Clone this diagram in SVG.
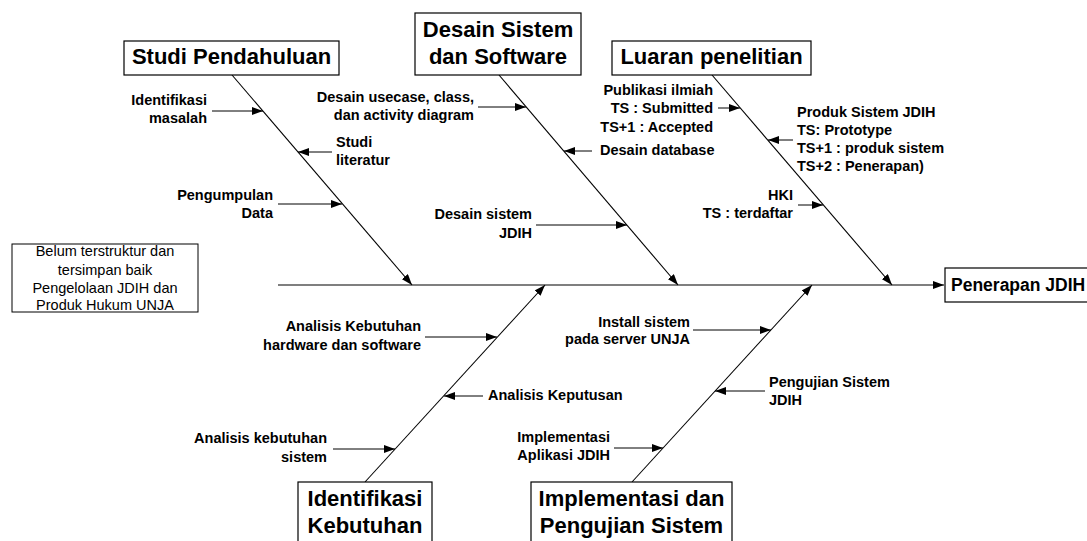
<svg xmlns="http://www.w3.org/2000/svg" width="1087" height="541" viewBox="0 0 1087 541">
<style>
.box{fill:#fff;stroke:#000;stroke-width:1.2}
.title{font-family:"Liberation Sans",Arial,sans-serif;font-weight:bold;font-size:22px;fill:#000}
.lbl{font-family:"Liberation Sans",Arial,sans-serif;font-weight:bold;font-size:14.5px;fill:#000}
.note{font-family:"Liberation Sans",Arial,sans-serif;font-size:14.5px;fill:#000}
.bone{stroke:#000;stroke-width:1.1;fill:none}
.sub{stroke:#000;stroke-width:1;fill:none}
.r{text-anchor:end}
.m{text-anchor:middle}
</style>
<defs>
<marker id="ah" viewBox="0 0 11 8" refX="11" refY="4" markerWidth="11" markerHeight="8" markerUnits="userSpaceOnUse" orient="auto">
<path d="M0,0 L11,4 L0,8 z" fill="#000"/>
</marker>
</defs>
<rect width="1087" height="541" fill="#fff"/>

<g id="connectors">
<line class="bone" x1="278" y1="285" x2="944" y2="285" marker-end="url(#ah)"/>
<line class="bone" x1="232" y1="75" x2="412" y2="285" marker-end="url(#ah)"/>
<line class="bone" x1="499" y1="75" x2="678" y2="285" marker-end="url(#ah)"/>
<line class="bone" x1="712" y1="75" x2="892" y2="285" marker-end="url(#ah)"/>
<line class="bone" x1="365" y1="482" x2="545" y2="285" marker-end="url(#ah)"/>
<line class="bone" x1="632" y1="482" x2="812" y2="285" marker-end="url(#ah)"/>
<line class="sub" x1="212" y1="111" x2="263" y2="111" marker-end="url(#ah)"/>
<line class="sub" x1="332" y1="152" x2="298" y2="152" marker-end="url(#ah)"/>
<line class="sub" x1="278" y1="204" x2="342" y2="204" marker-end="url(#ah)"/>
<line class="sub" x1="478" y1="107" x2="526" y2="107" marker-end="url(#ah)"/>
<line class="sub" x1="592" y1="151" x2="564" y2="151" marker-end="url(#ah)"/>
<line class="sub" x1="536" y1="225" x2="627" y2="225" marker-end="url(#ah)"/>
<line class="sub" x1="718" y1="108" x2="740" y2="108" marker-end="url(#ah)"/>
<line class="sub" x1="793" y1="140" x2="768" y2="140" marker-end="url(#ah)"/>
<line class="sub" x1="798" y1="205" x2="823" y2="205" marker-end="url(#ah)"/>
<line class="sub" x1="425" y1="337" x2="497" y2="337" marker-end="url(#ah)"/>
<line class="sub" x1="483" y1="396" x2="444" y2="396" marker-end="url(#ah)"/>
<line class="sub" x1="333" y1="449" x2="395" y2="449" marker-end="url(#ah)"/>
<line class="sub" x1="693" y1="330" x2="771" y2="330" marker-end="url(#ah)"/>
<line class="sub" x1="765" y1="391" x2="715" y2="391" marker-end="url(#ah)"/>
<line class="sub" x1="614" y1="448" x2="663" y2="448" marker-end="url(#ah)"/>
</g>

<g id="studi-pendahuluan">
<rect class="box" x="124" y="41" width="215" height="34"/>
<text class="title m" x="231.5" y="64">Studi Pendahuluan</text>
</g>
<g id="desain-sistem">
<rect class="box" x="415" y="13" width="166" height="62"/>
<text class="title m" x="498" y="37">Desain Sistem</text>
<text class="title m" x="498" y="64">dan Software</text>
</g>
<g id="luaran-penelitian">
<rect class="box" x="612" y="41" width="199" height="34"/>
<text class="title m" x="711.5" y="64">Luaran penelitian</text>
</g>
<g id="identifikasi-kebutuhan">
<rect class="box" x="298" y="482" width="134" height="70"/>
<text class="title m" x="365" y="506">Identifikasi</text>
<text class="title m" x="365" y="533">Kebutuhan</text>
</g>
<g id="implementasi">
<rect class="box" x="531" y="482" width="201" height="70"/>
<text class="title m" x="631.5" y="506">Implementasi dan</text>
<text class="title m" x="631.5" y="533">Pengujian Sistem</text>
</g>
<g id="penerapan">
<rect class="box" x="945" y="268" width="150" height="34"/>
<text class="title" x="951" y="291" style="font-size:17.5px">Penerapan JDIH</text>
</g>
<g id="masalah">
<rect class="box" x="12" y="244" width="186" height="68" style="stroke-width:1"/>
<text class="note m" x="105" y="256">Belum terstruktur dan</text>
<text class="note m" x="105" y="275">tersimpan baik</text>
<text class="note m" x="105" y="293">Pengelolaan JDIH dan</text>
<text class="note m" x="105" y="310">Produk Hukum UNJA</text>
</g>

<g id="labels">
<text class="lbl r" x="207" y="105">Identifikasi</text>
<text class="lbl r" x="207" y="123">masalah</text>
<text class="lbl" x="336" y="147">Studi</text>
<text class="lbl" x="336" y="165">literatur</text>
<text class="lbl r" x="273" y="200">Pengumpulan</text>
<text class="lbl r" x="273" y="218">Data</text>
<text class="lbl r" x="474" y="102">Desain usecase, class,</text>
<text class="lbl r" x="474" y="120">dan activity diagram</text>
<text class="lbl" x="600" y="155">Desain database</text>
<text class="lbl r" x="532" y="219">Desain sistem</text>
<text class="lbl r" x="532" y="238">JDIH</text>
<text class="lbl r" x="713" y="95">Publikasi ilmiah</text>
<text class="lbl r" x="713" y="113">TS : Submitted</text>
<text class="lbl r" x="713" y="132">TS+1 : Accepted</text>
<text class="lbl" x="797" y="117">Produk Sistem JDIH</text>
<text class="lbl" x="797" y="135">TS: Prototype</text>
<text class="lbl" x="797" y="153">TS+1 : produk sistem</text>
<text class="lbl" x="797" y="171">TS+2 : Penerapan)</text>
<text class="lbl r" x="793" y="200">HKI</text>
<text class="lbl r" x="793" y="218">TS : terdaftar</text>
<text class="lbl r" x="421" y="331">Analisis Kebutuhan</text>
<text class="lbl r" x="421" y="350">hardware dan software</text>
<text class="lbl" x="488" y="400">Analisis Keputusan</text>
<text class="lbl r" x="327" y="443">Analisis kebutuhan</text>
<text class="lbl r" x="327" y="462">sistem</text>
<text class="lbl r" x="690" y="327">Install sistem</text>
<text class="lbl r" x="690" y="344">pada server UNJA</text>
<text class="lbl" x="769" y="387">Pengujian Sistem</text>
<text class="lbl" x="769" y="405">JDIH</text>
<text class="lbl r" x="610" y="442">Implementasi</text>
<text class="lbl r" x="610" y="460">Aplikasi JDIH</text>
</g>
</svg>
